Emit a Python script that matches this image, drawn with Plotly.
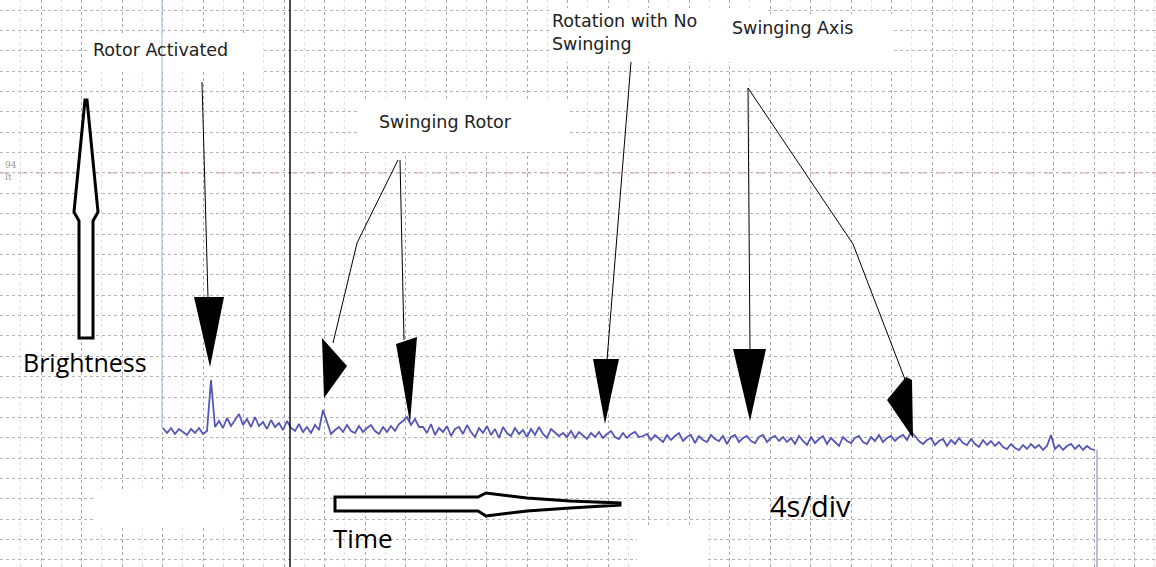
import numpy as np
import plotly.graph_objects as go

# ---------------- data ----------------
# brightness trace (screen-level units, larger = lower on the chart recorder paper)
seg_a = [428, 433, 428, 434, 429, 432, 435, 429, 433, 428, 434, 431]
spike_rotor = [380]
seg_b = [427, 421, 428, 418, 426, 420, 414, 425, 419, 427, 417, 426, 422, 429, 420, 427, 423, 430, 421]
seg_c = [428, 431, 424, 432, 427, 433, 425, 430]
spike_swing = [410, 422, 434, 430]
seg_d = [427, 432, 425, 431, 433, 426, 432, 428, 425, 431, 434, 427, 432, 426, 431, 424]
seg_e = [421, 417, 425, 419, 427]
seg_f = [427, 433, 424, 435, 428, 432, 426, 436, 429, 427, 434, 425, 432, 437, 428, 433, 426, 435,
         429, 438, 427, 433, 436, 428, 434, 430, 437, 429, 435, 427, 434, 438, 429, 433, 436]
seg_g = [433, 437, 431, 438, 432, 436, 439, 433, 437, 432, 438, 434, 431, 437, 439, 433, 438, 434, 432, 437]
seg_h = [436, 434, 440, 435, 439, 442, 435, 440, 436, 433, 441, 437, 435, 443, 436, 440, 442, 435,
         439, 441, 436, 444, 437, 435, 442, 438, 436, 441, 443, 437, 435, 442, 438, 436, 441]
seg_i = [437, 442, 438, 444, 436, 441, 445, 437, 443, 439, 436, 444, 438, 442, 446, 437, 441, 443,
         438, 436, 442, 444, 437, 441, 435, 442, 438, 436, 441, 437, 435, 440]
bump_axis = [432, 436]
seg_j = [441, 444, 440, 438, 445, 441, 439, 446, 440, 444, 438, 443, 445, 439, 444, 447, 440, 445, 441, 446, 442]
seg_k = [447, 449, 444, 448, 450, 445, 449, 444, 448, 445, 450, 446, 435, 449, 445, 450, 446, 444,
         449, 445, 450, 446, 449, 450]

trace_level = (seg_a + spike_rotor + seg_b + seg_c + spike_swing + seg_d + seg_e + seg_f +
               seg_g + seg_h + seg_i + bump_axis + seg_j + seg_k)
trace_start, trace_step = 163, 4
trace_pos = list(trace_start + trace_step * np.arange(len(trace_level)))
# pen lift at the end of the recording
end_pos = [1097, 1097]
end_level = [450, 567]

labels = {
    "rotor": "Rotor Activated",
    "swing": "Swinging Rotor",
    "norot": "Rotation with No<br>Swinging",
    "axis": "Swinging Axis",
    "bright": "Brightness",
    "time": "Time",
    "scale": "4s/div",
}

# ---------------- figure ----------------
fig = go.Figure()

fig.add_trace(go.Scatter(x=trace_pos, y=trace_level, mode="lines",
                         line=dict(color="#5656b8", width=1.8), hoverinfo="skip"))
fig.add_trace(go.Scatter(x=end_pos, y=end_level, mode="lines",
                         line=dict(color="#7a7ab0", width=1), hoverinfo="skip"))

shapes = []
def rect(x0, y0, x1, y1):
    shapes.append(dict(type="rect", x0=x0, y0=y0, x1=x1, y1=y1, fillcolor="white",
                       line=dict(width=0), layer="between"))

def line(x0, y0, x1, y1, color="black", width=1, layer="above", dash="solid"):
    shapes.append(dict(type="line", x0=x0, y0=y0, x1=x1, y1=y1,
                       line=dict(color=color, width=width, dash=dash), layer=layer))

def poly(path, fill="black", lw=0, lc="black"):
    shapes.append(dict(type="path", path=path, fillcolor=fill,
                       line=dict(color=lc, width=lw), layer="above"))

# red reference line on paper
line(0, 173, 1156, 173, color="#d8a8a8", width=1.2, layer="between", dash="dash")
# white paper patches (behind labels / blank areas)
rect(88, 33, 262, 72)
rect(360, 100, 570, 152)
rect(550, 8, 765, 62)
rect(730, 14, 893, 70)
rect(95, 490, 238, 525)
rect(637, 527, 708, 567)

# vertical recorder lines
line(162, 0, 162, 428, color="#a9c3e0", width=1.2)
line(290, 0, 290, 567, color="black", width=1.4)

# Rotor Activated arrow
line(202, 82, 208, 298)
poly("M 194 297 L 224 297 L 210 367 Z")
# Swinging Rotor arrows
line(400, 160, 404, 340)
poly("M 396 344 L 417 337 L 410 423 Z")
line(398, 160, 357, 243)
line(357, 243, 333, 343)
poly("M 322 338 L 347 366 L 324 398 Z")
# Rotation with No Swinging arrow
line(631, 62, 607, 360)
poly("M 593 359 L 619 359 L 605 424 Z")
# Swinging Axis arrows
line(748, 88, 750, 350)
poly("M 733 349 L 766 349 L 750 421 Z")
line(748, 88, 853, 244)
line(853, 244, 906, 382)
poly("M 906 377 L 887 400 L 913 438 L 912 380 Z")

# hollow Brightness arrow (up)
poly("M 79 338 L 79 221 L 74 212 L 85 100 L 87 100 L 98 212 L 93 221 L 93 338 Z",
     fill="white", lw=3)
# hollow Time arrow (right)
poly("M 335 497 L 478 497 L 486 493 L 527 498 L 570 501 L 620 503 L 620 505 L 570 508 "
     "L 527 511 L 486 516 L 478 511 L 335 511 Z", fill="white", lw=3)

annotations = []
def text(x, y, s, size, fam="DejaVu Sans", color="#222222", anchor="left"):
    annotations.append(dict(x=x, y=y, text=s, showarrow=False, xanchor=anchor, yanchor="middle",
                            align="left", font=dict(family=fam, size=size, color=color)))

text(91, 50, labels["rotor"], 17.5)
text(377, 122, labels["swing"], 17.5)
text(550, 32, labels["norot"], 17.5)
text(730, 28, labels["axis"], 17.5)
text(21, 362, labels["bright"], 25, fam="Open Sans", color="black")
text(331, 538, labels["time"], 26, fam="Open Sans", color="black")
text(768, 505, labels["scale"], 29, fam="Open Sans", color="black")
text(3, 171, "94<br>lt", 9, fam="DejaVu Serif", color="#999999")

fig.update_layout(
    width=1156, height=567, margin=dict(l=0, r=0, t=0, b=0),
    paper_bgcolor="white", plot_bgcolor="white", showlegend=False,
    shapes=shapes, annotations=annotations,
    xaxis=dict(range=[0, 1156], showticklabels=False, zeroline=False, ticks="",
               showgrid=True, tick0=41, dtick=40.5, gridcolor="#a8a8a8", griddash="dot", gridwidth=1,
               minor=dict(tick0=20.75, dtick=20.25, showgrid=True, gridcolor="#ecdcdc", gridwidth=1)),
    yaxis=dict(range=[567, 0], showticklabels=False, zeroline=False, ticks="",
               showgrid=True, tick0=10, dtick=20.37, gridcolor="#b4b4b4", griddash="dot", gridwidth=1),
)

fig.write_html("out.html")
